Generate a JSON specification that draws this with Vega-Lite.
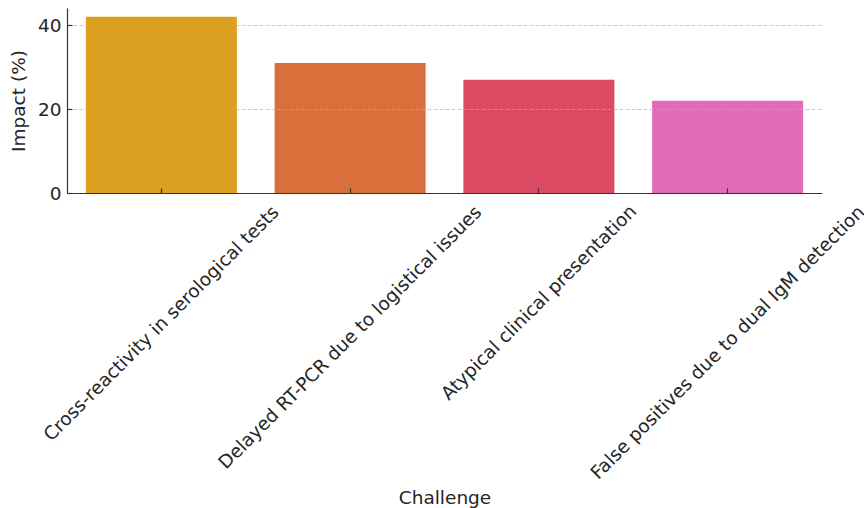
{
  "$schema": "https://vega.github.io/schema/vega-lite/v6.json",
  "width": 755,
  "height": 185,
  "autosize": "none",
  "padding": {"left": 67, "top": 8, "right": 42, "bottom": 315},
  "background": "white",
  "config": {
    "view": {"stroke": null},
    "font": "DejaVu Sans"
  },
  "data": {
    "values": [
      {"challenge": "Cross-reactivity in serological tests", "impact": 42},
      {"challenge": "Delayed RT-PCR due to logistical issues", "impact": 31},
      {"challenge": "Atypical clinical presentation", "impact": 27},
      {"challenge": "False positives due to dual IgM detection", "impact": 22}
    ]
  },
  "mark": {"type": "bar"},
  "encoding": {
    "x": {
      "field": "challenge",
      "type": "nominal",
      "sort": null,
      "scale": {"paddingInner": 0.2, "paddingOuter": 0.1},
      "axis": {
        "title": "Challenge",
        "titleFont": "DejaVu Sans",
        "titleFontSize": 18.5,
        "titleFontWeight": "normal",
        "titleColor": "#262626",
        "titleBaseline": "alphabetic",
        "titleY": 310,
        "labelFont": "DejaVu Sans",
        "labelFontSize": 18.5,
        "labelColor": "#262626",
        "labelAngle": -45,
        "labelAlign": "center",
        "labelBaseline": "middle",
        "labelLimit": 0,
        "labelOverlap": false,
        "labelBound": false,
        "labelPadding": {
          "condition": [
            {"test": "datum.value === 'Cross-reactivity in serological tests'", "value": 135},
            {"test": "datum.value === 'Delayed RT-PCR due to logistical issues'", "value": 149},
            {"test": "datum.value === 'False positives due to dual IgM detection'", "value": 154}
          ],
          "value": 114
        },
        "grid": false,
        "domainColor": "#333333",
        "domainWidth": 1.2,
        "tickColor": "#333333",
        "tickWidth": 1.2,
        "tickSize": -5,
        "zindex": 1
      }
    },
    "y": {
      "field": "impact",
      "type": "quantitative",
      "scale": {"domain": [0, 44.1], "nice": false},
      "axis": {
        "title": "Impact (%)",
        "titleFont": "DejaVu Sans",
        "titleFontSize": 18.5,
        "titleFontWeight": "normal",
        "titleColor": "#262626",
        "titleAlign": "center",
        "titleBaseline": "alphabetic",
        "titleX": -43,
        "titleY": 92.5,
        "values": [0, 20, 40],
        "labelFont": "DejaVu Sans",
        "labelFontSize": 18.5,
        "labelColor": "#262626",
        "labelPadding": 11,
        "grid": true,
        "gridColor": "#b0b0b0",
        "gridOpacity": 0.7,
        "gridDash": [4, 2],
        "gridWidth": 0.9,
        "domainColor": "#333333",
        "domainWidth": 1.2,
        "tickColor": "#333333",
        "tickWidth": 1.2,
        "tickSize": -5,
        "zindex": 1
      }
    },
    "color": {
      "field": "challenge",
      "type": "nominal",
      "sort": null,
      "legend": null,
      "scale": {
        "domain": [
          "Cross-reactivity in serological tests",
          "Delayed RT-PCR due to logistical issues",
          "Atypical clinical presentation",
          "False positives due to dual IgM detection"
        ],
        "range": ["#dca021", "#d9703b", "#db4963", "#e06bb7"]
      }
    }
  }
}
